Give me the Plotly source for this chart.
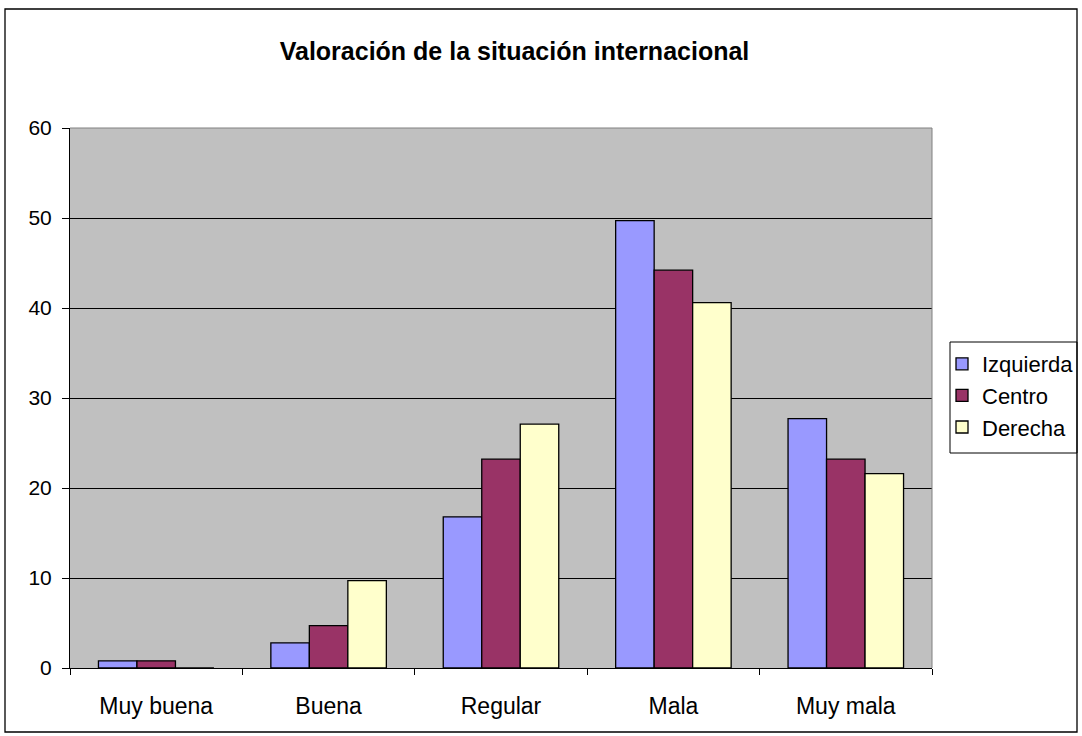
import plotly.graph_objects as go

categories = ["Muy buena", "Buena", "Regular", "Mala", "Muy mala"]
izquierda = [0.8, 2.8, 16.8, 49.7, 27.7]
centro = [0.8, 4.7, 23.2, 44.2, 23.2]
derecha = [0.0, 9.7, 27.1, 40.6, 21.6]
series_names = ["Izquierda", "Centro", "Derecha"]
series_values = [izquierda, centro, derecha]
series_colors = ["#9999FF", "#993366", "#FFFFCC"]
y_ticks = [0, 10, 20, 30, 40, 50, 60]

FONT = "Liberation Sans, Arial, sans-serif"

fig = go.Figure()
for i, (name, vals, col) in enumerate(zip(series_names, series_values, series_colors)):
    fig.add_trace(go.Bar(
        x=categories, y=vals, name=name, legendgroup=name,
        marker=dict(color=col, line=dict(color="black", width=1.3)),
    ))

W, H = 1082, 736
L, R, T, B = 70, 150, 128, 68
pw, ph = W - L - R, H - T - B

def px_x(x):
    return (x - L) / pw

def px_y(y):
    return (H - B - y) / ph

fig.update_layout(
    width=W, height=H,
    margin=dict(l=L, r=R, t=T, b=B, autoexpand=False),
    paper_bgcolor="white",
    plot_bgcolor="#C0C0C0",
    barmode="group",
    bargap=0.33,
    bargroupgap=0,
    font=dict(family=FONT, size=22, color="black"),
    title=dict(
        text="<b>Valoración de la situación internacional</b>",
        font=dict(family=FONT, size=25, color="black"),
        x=514.5 / W, xanchor="center", y=1 - 51 / H, yanchor="middle",
    ),
    legend=dict(
        x=px_x(942), xanchor="left", y=px_y(343), yanchor="top",
        borderwidth=0, bgcolor="rgba(0,0,0,0)",
        font=dict(family=FONT, size=22, color="black"),
        tracegroupgap=11, itemwidth=30,
        traceorder="normal",
    ),
    showlegend=True,
)

fig.update_xaxes(
    showline=True, linecolor="black", linewidth=1,
    ticks="outside", tickson="boundaries", ticklen=6, tickcolor="black",
    showgrid=False, ticklabelstandoff=17,
    tickfont=dict(family=FONT, size=23, color="black"),
)
fig.update_yaxes(
    range=[0, 60], tickvals=y_ticks,
    showline=True, linecolor="black", linewidth=1,
    ticks="outside", ticklen=7, tickcolor="black",
    showgrid=True, gridcolor="black", gridwidth=1,
    zeroline=False, ticklabelstandoff=6,
    tickfont=dict(family=FONT, size=21, color="black"),
)

# plot area top and right border (gray)
fig.add_shape(type="line", xref="paper", yref="paper", x0=0, x1=1, y0=1, y1=1,
              line=dict(color="#808080", width=1), layer="above")
fig.add_shape(type="line", xref="paper", yref="paper", x0=1, x1=1, y0=0, y1=1,
              line=dict(color="#808080", width=1), layer="above")
# legend frame
fig.add_shape(type="rect", xref="paper", yref="paper",
              x0=px_x(950), x1=px_x(1077), y0=px_y(453), y1=px_y(342),
              line=dict(color="black", width=1), layer="below")
# outer chart border
fig.add_shape(type="rect", xref="paper", yref="paper",
              x0=px_x(5), x1=px_x(1077), y0=px_y(732), y1=px_y(9),
              line=dict(color="black", width=1.3), layer="above")

fig.write_html("out.html", config={"displayModeBar": False},
               post_script="document.body.style.margin='0px';")
